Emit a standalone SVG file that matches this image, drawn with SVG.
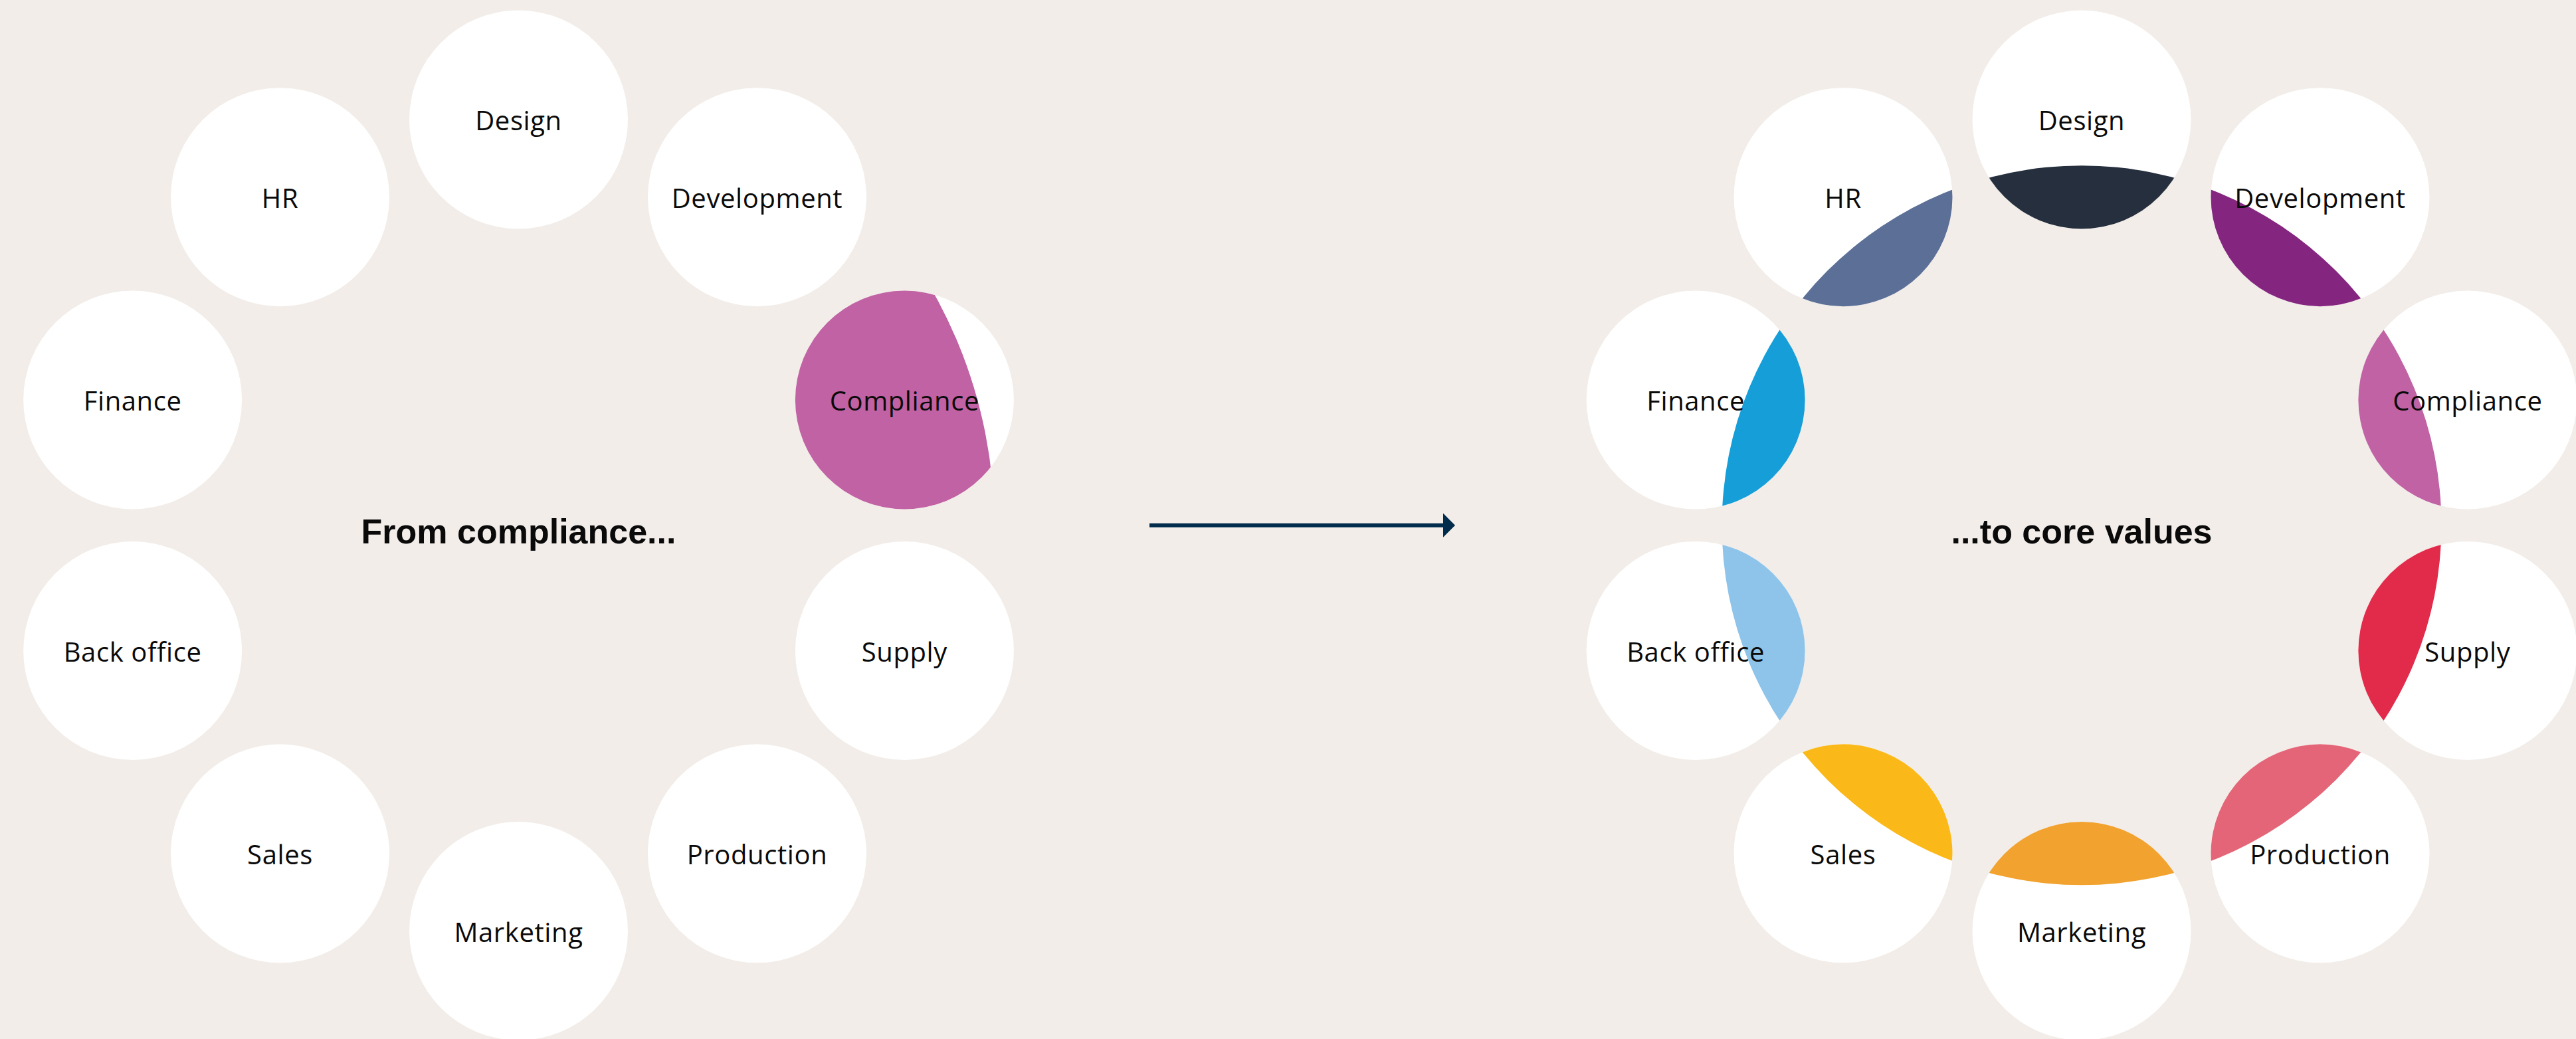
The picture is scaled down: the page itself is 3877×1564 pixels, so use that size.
<svg xmlns="http://www.w3.org/2000/svg" width="3877" height="1564" viewBox="0 0 3877 1564">
  <style>
    .node { fill: #ffffff; }
    .label { font-family: "Open Sans", "Liberation Sans", sans-serif; font-size: 40px; letter-spacing: 0.6px; fill: #0a0a0a; text-anchor: middle; }
    .title { font-family: "Liberation Sans", Arial, sans-serif; font-size: 52px; font-weight: 700; fill: #0a0a0a; text-anchor: middle; }
    .conn { stroke: #002b4b; stroke-width: 6; fill: none; }
  </style>
  <defs>
    <clipPath id="clipLeft"><circle cx="780.5" cy="790.75" r="716"/></clipPath>
    <clipPath id="clipRight"><circle cx="3133" cy="790.75" r="541.5"/></clipPath>
    <marker id="arrowHead" markerWidth="6" markerHeight="6" refX="0" refY="3" orient="auto" markerUnits="strokeWidth">
      <path d="M0,0 L3,3 L0,6 Z" fill="#002b4b"/>
    </marker>
  </defs>
  <rect width="3877" height="1564" fill="#f2ede9"/>

  <!-- Left ring -->
  <g id="left-ring">
    <g id="l-design"><circle class="node" cx="780.5" cy="180" r="164.5"/><text class="label" x="780.5" y="196">Design</text></g>
    <g id="l-development"><circle class="node" cx="1139.49" cy="296.64" r="164.5"/><text class="label" x="1139.49" y="312.6">Development</text></g>
    <g id="l-compliance"><circle class="node" cx="1361.36" cy="602.02" r="164.5"/><circle cx="1361.36" cy="602.02" r="164.5" fill="#c062a3" clip-path="url(#clipLeft)"/><text class="label" x="1361.36" y="618">Compliance</text></g>
    <g id="l-supply"><circle class="node" cx="1361.36" cy="979.48" r="164.5"/><text class="label" x="1361.36" y="995.5">Supply</text></g>
    <g id="l-production"><circle class="node" cx="1139.49" cy="1284.86" r="164.5"/><text class="label" x="1139.49" y="1300.9">Production</text></g>
    <g id="l-marketing"><circle class="node" cx="780.5" cy="1401.5" r="164.5"/><text class="label" x="780.5" y="1417.5">Marketing</text></g>
    <g id="l-sales"><circle class="node" cx="421.51" cy="1284.86" r="164.5"/><text class="label" x="421.51" y="1300.9">Sales</text></g>
    <g id="l-backoffice"><circle class="node" cx="199.64" cy="979.48" r="164.5"/><text class="label" x="199.64" y="995.5">Back office</text></g>
    <g id="l-finance"><circle class="node" cx="199.64" cy="602.02" r="164.5"/><text class="label" x="199.64" y="618">Finance</text></g>
    <g id="l-hr"><circle class="node" cx="421.51" cy="296.64" r="164.5"/><text class="label" x="421.51" y="312.6">HR</text></g>
    <text id="l-title" class="title" x="780.5" y="818">From compliance...</text>
  </g>

  <!-- Right ring -->
  <g id="right-ring">
    <g id="r-design"><circle class="node" cx="3133" cy="180" r="164.5"/><circle cx="3133" cy="180" r="164.5" fill="#262f3e" clip-path="url(#clipRight)"/><text class="label" x="3133" y="196">Design</text></g>
    <g id="r-development"><circle class="node" cx="3491.99" cy="296.64" r="164.5"/><circle cx="3491.99" cy="296.64" r="164.5" fill="#84267f" clip-path="url(#clipRight)"/><text class="label" x="3491.99" y="312.6">Development</text></g>
    <g id="r-compliance"><circle class="node" cx="3713.86" cy="602.02" r="164.5"/><circle cx="3713.86" cy="602.02" r="164.5" fill="#c062a3" clip-path="url(#clipRight)"/><text class="label" x="3713.86" y="618">Compliance</text></g>
    <g id="r-supply"><circle class="node" cx="3713.86" cy="979.48" r="164.5"/><circle cx="3713.86" cy="979.48" r="164.5" fill="#e22a4a" clip-path="url(#clipRight)"/><text class="label" x="3713.86" y="995.5">Supply</text></g>
    <g id="r-production"><circle class="node" cx="3491.99" cy="1284.86" r="164.5"/><circle cx="3491.99" cy="1284.86" r="164.5" fill="#e46577" clip-path="url(#clipRight)"/><text class="label" x="3491.99" y="1300.9">Production</text></g>
    <g id="r-marketing"><circle class="node" cx="3133" cy="1401.5" r="164.5"/><circle cx="3133" cy="1401.5" r="164.5" fill="#f2a22f" clip-path="url(#clipRight)"/><text class="label" x="3133" y="1417.5">Marketing</text></g>
    <g id="r-sales"><circle class="node" cx="2774.01" cy="1284.86" r="164.5"/><circle cx="2774.01" cy="1284.86" r="164.5" fill="#fab918" clip-path="url(#clipRight)"/><text class="label" x="2774.01" y="1300.9">Sales</text></g>
    <g id="r-backoffice"><circle class="node" cx="2552.14" cy="979.48" r="164.5"/><circle cx="2552.14" cy="979.48" r="164.5" fill="#8ec4ea" clip-path="url(#clipRight)"/><text class="label" x="2552.14" y="995.5">Back office</text></g>
    <g id="r-finance"><circle class="node" cx="2552.14" cy="602.02" r="164.5"/><circle cx="2552.14" cy="602.02" r="164.5" fill="#169ed8" clip-path="url(#clipRight)"/><text class="label" x="2552.14" y="618">Finance</text></g>
    <g id="r-hr"><circle class="node" cx="2774.01" cy="296.64" r="164.5"/><circle cx="2774.01" cy="296.64" r="164.5" fill="#5c6f96" clip-path="url(#clipRight)"/><text class="label" x="2774.01" y="312.6">HR</text></g>
    <text id="r-title" class="title" x="3133" y="818">...to core values</text>
  </g>

  <!-- Connectors -->
  <g id="connectors">
    <line class="conn" x1="1730" y1="790.7" x2="2172" y2="790.7" marker-end="url(#arrowHead)"/>
  </g>
</svg>
